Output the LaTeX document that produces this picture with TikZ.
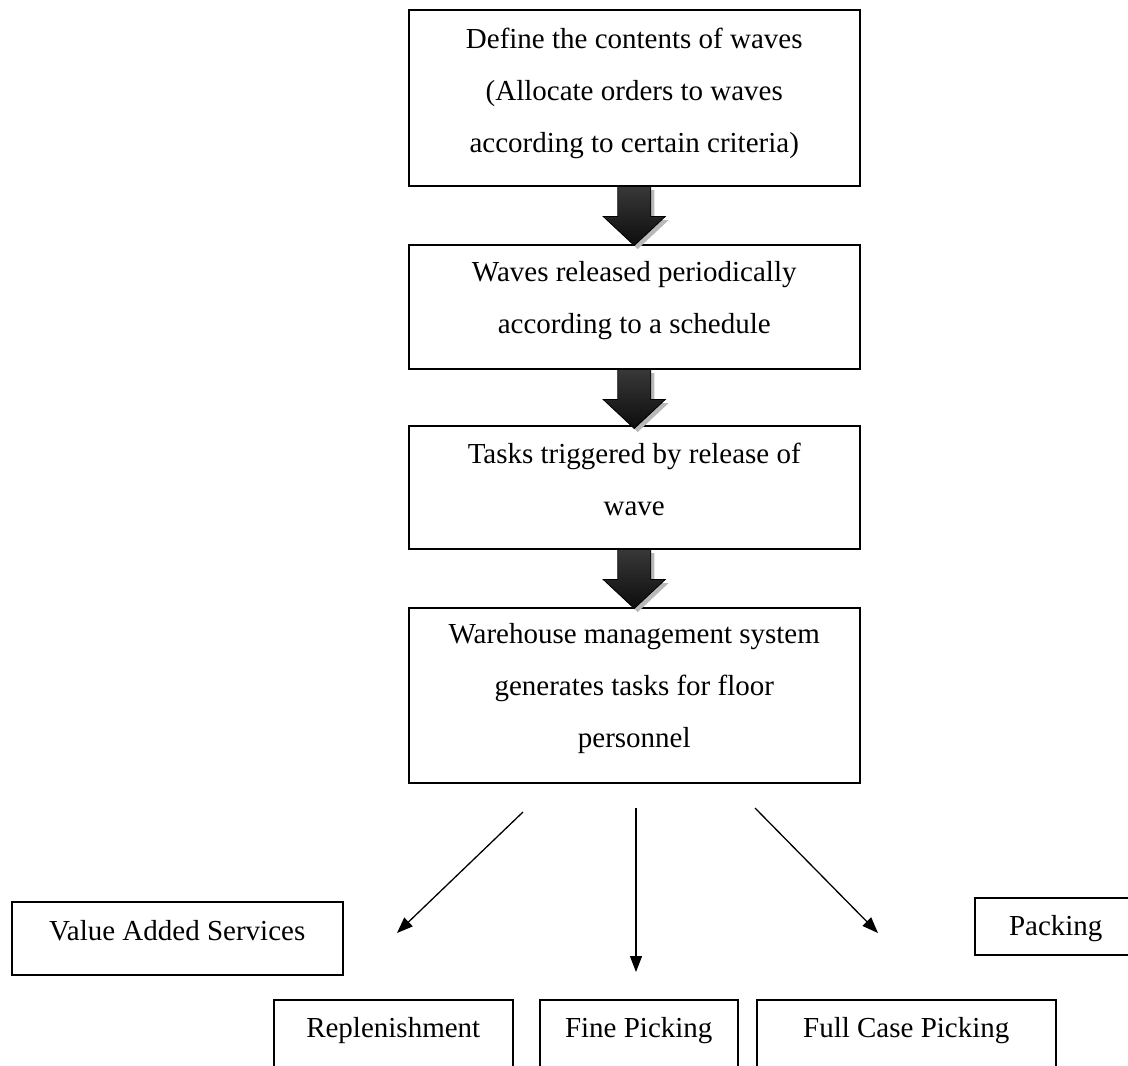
\documentclass[tikz,border=0pt]{standalone}
\usepackage{fontspec}
\setmainfont{Liberation Serif}
\usetikzlibrary{arrows.meta,calc}
\newcommand\arrowshape{(-16.5,0) -- (16.5,0) -- (16.5,30) -- (31,30) -- (0,59) -- (-31,30) -- (-16.5,30) -- cycle}
\newcommand\blkarrow[1]{%
  \begin{scope}[shift={(#1.south)}]
    \fill[gray!55, shift={(3.5,3.5)}] \arrowshape;
    \shade[top color=black!78, middle color=black!30, bottom color=black!95, draw=black, line width=0.8pt] \arrowshape;
  \end{scope}
}
\begin{document}
\begin{tikzpicture}[x=1pt,y=-1pt,
  box/.style={draw=black, line width=1.5pt, inner sep=0pt, anchor=north west},
  txt/.style={font=\fontsize{29}{52}\selectfont, align=center, inner sep=0pt, anchor=north},
  conn/.style={line width=1.3pt, -{Triangle[length=16pt,width=12pt]}}]
\useasboundingbox (0,0) rectangle (1128,1066);
\clip (0,0) rectangle (1128,1066);
\fill[white] (0,0) rectangle (1128,1066);

% main column boxes
\node[box, minimum width=451pt, minimum height=176pt] (b1) at (408,9) {};
\node[box, minimum width=451pt, minimum height=124pt] (b2) at (408,244) {};
\node[box, minimum width=451pt, minimum height=123pt] (b3) at (408,425) {};
\node[box, minimum width=451pt, minimum height=175pt] (b4) at (408,607) {};

\node[txt, yshift=-2.6pt] (t1) at (b1.north) {\strut Define the contents of waves\\(Allocate orders to waves\\according to certain criteria)};
\node[txt, yshift=-0.6pt] (t2) at (b2.north) {\strut Waves released periodically\\according to a schedule};
\node[txt, yshift=-1.6pt] (t3) at (b3.north) {\strut Tasks triggered by release of\\wave};
\node[txt, yshift=0.4pt] (t4) at (b4.north) {\strut Warehouse management system\\generates tasks for floor\\personnel};

% block arrows (b1 -> b2, b2 -> b3, b3 -> b4)
\blkarrow{b1}
\blkarrow{b2}
\blkarrow{b3}

% lower boxes
\node[box, minimum width=331pt, minimum height=73pt] (vas) at (11,901) {};
\node[box, minimum width=162pt, minimum height=57pt] (pack) at (974,897) {};
\node[box, minimum width=239pt, minimum height=100pt] (rep) at (273,999) {};
\node[box, minimum width=198pt, minimum height=100pt] (fine) at (539,999) {};
\node[box, minimum width=299pt, minimum height=100pt] (full) at (756,999) {};

\node[txt, yshift=-2.6pt] (tvas) at (vas.north) {\strut Value Added Services};
\node[txt, yshift=-1.6pt] (tpack) at (pack.north) {\strut Packing};
\node[txt, yshift=-1.6pt] (trep) at (rep.north) {\strut Replenishment};
\node[txt, yshift=-1.6pt] (tfine) at (fine.north) {\strut Fine Picking};
\node[txt, yshift=-1.6pt] (tfull) at (full.north) {\strut Full Case Picking};

% thin arrows
\coordinate (s1) at (523,812);
\coordinate (e1) at (397,933);
\coordinate (s2) at (636,808);
\coordinate (e2) at (636,972);
\coordinate (s3) at (755,808);
\coordinate (e3) at (878,933);
\draw[conn] (s1) -- (e1);
\draw[conn] (s2) -- (e2);
\draw[conn] (s3) -- (e3);
\end{tikzpicture}
\end{document}
